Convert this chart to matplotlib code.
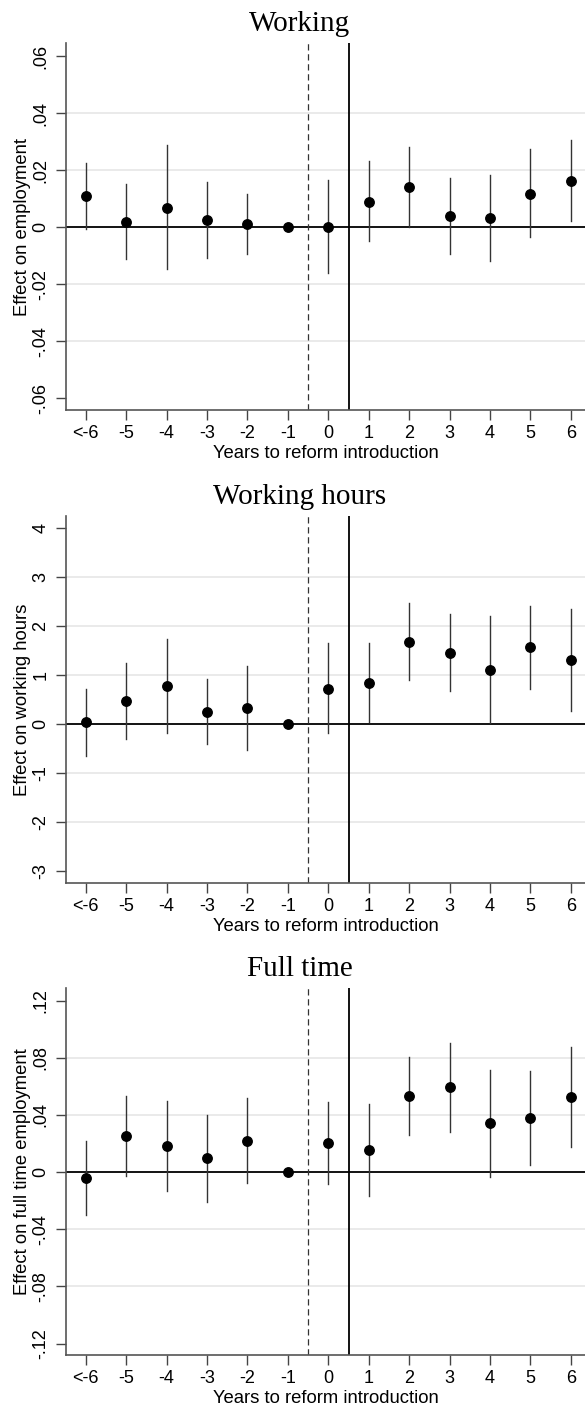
import matplotlib
matplotlib.use("Agg")
import matplotlib.pyplot as plt

years = [-6, -5, -4, -3, -2, -1, 0, 1, 2, 3, 4, 5, 6]
year_labels = ["<-6", "-5", "-4", "-3", "-2", "-1", "0", "1", "2", "3", "4", "5", "6"]

# Working
emp_coef = [0.0109, 0.0019, 0.0069, 0.0026, 0.0011, 0.0, 0.0001, 0.0089, 0.0140, 0.0039, 0.0033, 0.0117, 0.0164]
emp_hi = [0.0227, 0.0152, 0.0288, 0.0159, 0.0115, 0.0, 0.0165, 0.0231, 0.0282, 0.0173, 0.0184, 0.0273, 0.0308]
emp_lo = [-0.0008, -0.0113, -0.0147, -0.0108, -0.0094, 0.0, -0.0162, -0.0050, 0.0001, -0.0095, -0.0118, -0.0036, 0.0021]

# Working hours
hrs_coef = [0.035, 0.47, 0.77, 0.25, 0.32, 0.0, 0.72, 0.84, 1.67, 1.45, 1.10, 1.56, 1.31]
hrs_hi = [0.72, 1.24, 1.73, 0.91, 1.18, 0.0, 1.65, 1.65, 2.46, 2.24, 2.20, 2.40, 2.35]
hrs_lo = [-0.65, -0.30, -0.18, -0.41, -0.54, 0.0, -0.18, 0.035, 0.90, 0.67, 0.01, 0.71, 0.27]

# Full time
ft_coef = [-0.0042, 0.0252, 0.0182, 0.0096, 0.0219, 0.0, 0.0203, 0.0154, 0.0532, 0.0593, 0.0341, 0.0376, 0.0525]
ft_hi = [0.0219, 0.0532, 0.0497, 0.0401, 0.0518, 0.0, 0.0492, 0.0476, 0.0805, 0.0905, 0.0714, 0.0707, 0.0873]
ft_lo = [-0.0299, -0.0026, -0.0131, -0.0212, -0.0079, 0.0, -0.0086, -0.0166, 0.0259, 0.0280, -0.0033, 0.0047, 0.0177]

panels = [
    ("Working", "Effect on employment", emp_coef, emp_lo, emp_hi,
     [-0.06, -0.04, -0.02, 0, 0.02, 0.04, 0.06],
     ["-.06", "-.04", "-.02", "0", ".02", ".04", ".06"], (-0.0642, 0.0646)),
    ("Working hours", "Effect on working hours", hrs_coef, hrs_lo, hrs_hi,
     [-3, -2, -1, 0, 1, 2, 3, 4],
     ["-3", "-2", "-1", "0", "1", "2", "3", "4"], (-3.24, 4.24)),
    ("Full time", "Effect on full time employment", ft_coef, ft_lo, ft_hi,
     [-0.12, -0.08, -0.04, 0, 0.04, 0.08, 0.12],
     ["-.12", "-.08", "-.04", "0", ".04", ".08", ".12"], (-0.128, 0.1286)),
]

plt.rcParams['font.family'] = ['Liberation Sans', 'DejaVu Sans']

fig = plt.figure(figsize=(5.85, 14.05), dpi=100)
bottoms = [0.7082, 0.3717, 0.0356]
left, width, height = 0.1128, 0.8872, 0.261

for (title, ylabel, coef, lo, hi, yt, ytl, ylim), b in zip(panels, bottoms):
    ax = fig.add_axes([left, b, width, height])
    # grid on inner ticks only
    for t in yt[1:-1]:
        if t != 0:
            ax.axhline(t, color='#e6e6e6', lw=1.2, zorder=0)
    ax.axhline(0, color='black', lw=1.3, zorder=2)
    ax.axvline(-0.5, color='#333333', lw=0.9, ls=(0, (5, 3)), zorder=2)
    ax.axvline(0.5, color='black', lw=1.3, zorder=2)

    for x, l, h in zip(years, lo, hi):
        if h != l:
            ax.plot([x, x], [l, h], color='#333333', lw=1.0, zorder=3)
    ax.plot(years, coef, 'o', color='black', ms=6.8, zorder=4)

    ax.set_xlim(-6.49, 6.35)
    ax.set_ylim(*ylim)
    ax.set_xticks(years)
    ax.set_xticklabels(year_labels, fontsize=13)
    ax.set_yticks(yt)
    ax.set_yticklabels(ytl, fontsize=13, rotation=90, va='center')
    ax.tick_params(direction='out', length=7, width=1, color='#444444')
    ax.tick_params(axis='x', pad=4)
    ax.tick_params(axis='y', pad=5)
    for s in ['top', 'right']:
        ax.spines[s].set_visible(False)
    for s in ['left', 'bottom']:
        ax.spines[s].set_color('#555555')
        ax.spines[s].set_linewidth(1.2)
    ax.set_xlabel("Years to reform introduction", fontsize=13.3, labelpad=2)
    ax.set_ylabel(ylabel, fontsize=13.3, labelpad=1)
    fig.text(300 / 585, b + height + 12 / 1405, title,
             family='Liberation Serif', fontsize=21, ha='center', va='baseline')

fig.savefig("out.png", dpi=100)
